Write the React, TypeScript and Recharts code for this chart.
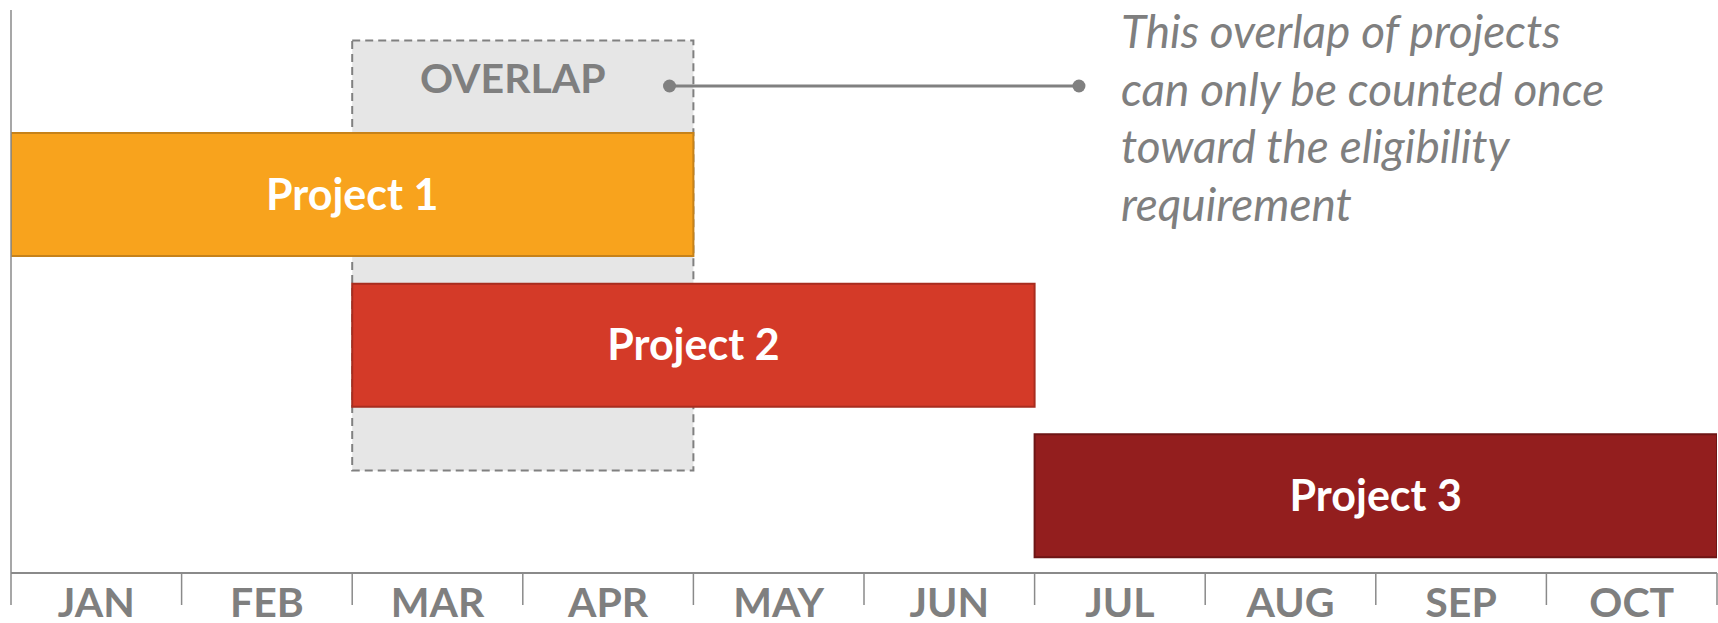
import React from 'react'
import {
  BarChart,
  Bar,
  XAxis,
  YAxis,
  Cell,
  LabelList,
  ReferenceArea,
  ReferenceLine,
  ReferenceDot,
} from 'recharts'

// months on the timeline (one unit = one month)
const months = ['JAN', 'FEB', 'MAR', 'APR', 'MAY', 'JUN', 'JUL', 'AUG', 'SEP', 'OCT']
const monthTicks = [0, 1, 2, 3, 4, 5, 6, 7, 8, 9, 10]
const monthLabelTicks = [0.5, 1.5, 2.5, 3.5, 4.5, 5.5, 6.5, 7.5, 8.5, 9.5]

// projects: start / end month
const projects = ['Project 1', 'Project 2', 'Project 3']
const projectStart = [0, 2, 6]
const projectEnd = [4, 6, 10]
const projectColors = ['#F8A31D', '#D43A28', '#931E1E']
const projectBorders = ['#C6821A', '#A82D1F', '#6E1515']

// overlap box: months covered, vertical extent in % of plot height from top
const overlapText = 'OVERLAP'
const overlapMonths = [2, 4]
const overlapLanes = [5.4, 81.8]

// connector between the box and the note
const connectorMonths = [3.86, 6.26]
const connectorLane = 13.5

const noteLines = [
  'This overlap of projects',
  'can only be counted once',
  'toward the eligibility',
  'requirement',
]

const GRAY = '#7F7F7F'
const AXIS = '#8A8A8A'
const FONT = 'Lato, "Open Sans", sans-serif'

const rows = projects.map((name, i) => ({ name, span: [projectStart[i], projectEnd[i]] }))

const NoTick = () => <g />

export default function App() {
  return (
    <div style={{ position: 'absolute', left: 0, top: 0, width: 1718, height: 623, background: '#fff' }}>
      <BarChart
        width={1718}
        height={623}
        data={rows}
        layout="vertical"
        margin={{ top: 10, right: 1, bottom: 0, left: 11 }}
      >
        <XAxis
          xAxisId="grid"
          type="number"
          domain={[0, 10]}
          ticks={monthTicks}
          interval={0}
          tick={NoTick}
          tickSize={32}
          height={1}
          allowDataOverflow
          axisLine={{ stroke: AXIS, strokeWidth: 2 }}
          tickLine={{ stroke: AXIS, strokeWidth: 1.5 }}
        />
        <XAxis
          xAxisId="months"
          type="number"
          domain={[0, 10]}
          ticks={monthLabelTicks}
          interval={0}
          tickFormatter={(v: number) => months[Math.floor(v)]}
          axisLine={false}
          tickLine={false}
          tickSize={0}
          tickMargin={14}
          height={49}
          allowDataOverflow
          tick={{ fill: GRAY, fontSize: 41, fontWeight: 700, fontFamily: FONT }}
        />
        <YAxis
          yAxisId="rows"
          type="category"
          dataKey="name"
          hide
          padding={{ top: 109, bottom: 2 }}
        />
        <YAxis
          yAxisId="lane"
          type="number"
          dataKey="lane"
          domain={[0, 100]}
          hide
          allowDataOverflow
        />

        {/* vertical axis line at the start of the timeline */}
        <ReferenceLine
          xAxisId="grid"
          yAxisId="lane"
          x={0}
          ifOverflow="visible"
          stroke={AXIS}
          strokeWidth={1.5}
        />

        <ReferenceArea
          xAxisId="grid"
          yAxisId="lane"
          x1={overlapMonths[0]}
          x2={overlapMonths[1]}
          y1={overlapLanes[0]}
          y2={overlapLanes[1]}
          ifOverflow="visible"
          fill="#E6E6E6"
          fillOpacity={1}
          stroke="#808080"
          strokeWidth={2}
          strokeDasharray="8 5"
          label={(p: any) => {
            const vb = p.viewBox || {}
            return (
              <text
                x={vb.x + vb.width / 2 - 10}
                y={vb.y + 53}
                textAnchor="middle"
                fill={GRAY}
                fontSize={41}
                fontWeight={700}
                fontFamily={FONT}
              >
                {overlapText}
              </text>
            )
          }}
        />

        <Bar xAxisId="grid" yAxisId="rows" dataKey="span" barSize={123} isAnimationActive={false}>
          {rows.map((r, i) => (
            <Cell key={r.name} fill={projectColors[i]} stroke={projectBorders[i]} strokeWidth={2} />
          ))}
          <LabelList
            dataKey="name"
            position="center"
            fill="#FFFFFF"
            fontSize={43}
            fontWeight={700}
            fontFamily={FONT}
          />
        </Bar>

        <ReferenceLine
          xAxisId="grid"
          yAxisId="lane"
          ifOverflow="visible"
          segment={[
            { x: connectorMonths[0], y: connectorLane },
            { x: connectorMonths[1], y: connectorLane },
          ]}
          stroke="#808080"
          strokeWidth={3}
        />
        <ReferenceDot
          xAxisId="grid"
          yAxisId="lane"
          ifOverflow="visible"
          x={connectorMonths[0]}
          y={connectorLane}
          r={6.5}
          fill="#808080"
          stroke="none"
        />
        <ReferenceDot
          xAxisId="grid"
          yAxisId="lane"
          ifOverflow="visible"
          x={connectorMonths[1]}
          y={connectorLane}
          r={6.5}
          fill="#808080"
          stroke="none"
          label={(p: any) => {
            const vb = p.viewBox || {}
            const cx = vb.x + vb.width / 2
            const cy = vb.y + vb.height / 2
            return (
              <text
                x={cx + 42}
                y={cy - 38}
                fill={GRAY}
                fontSize={46}
                fontStyle="italic"
                fontFamily={FONT}
              >
                {noteLines.map((line, i) => (
                  <tspan key={line} x={cx + 42} y={cy - 38 + i * 57.5}>
                    {line}
                  </tspan>
                ))}
              </text>
            )
          }}
        />
      </BarChart>
    </div>
  )
}
